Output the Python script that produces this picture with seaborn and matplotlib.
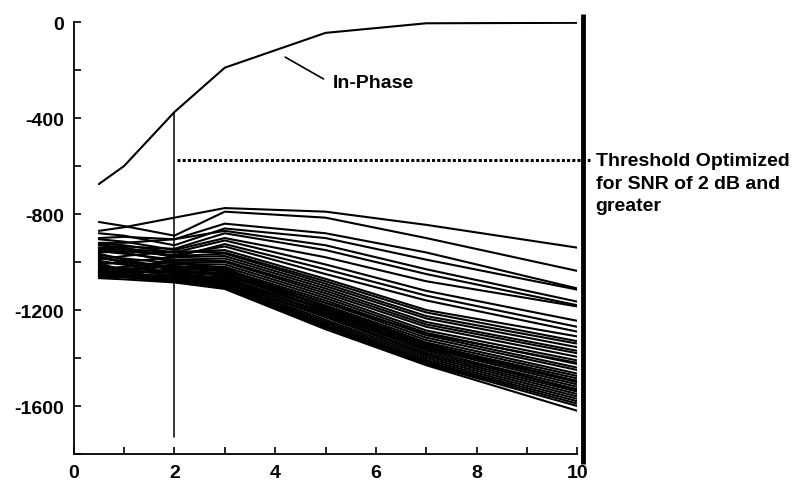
import pandas as pd
import numpy as np
import matplotlib.pyplot as plt
import seaborn as sns
from matplotlib.ticker import MultipleLocator

# SNR points (dB) where each curve was sampled
snr = [0.5, 1, 2, 3, 5, 7, 10]

in_phase = [-675, -600, -375, -190, -45, -5, -3]

threshold = -575

# noise/out-of-phase curves, one row per curve (values at the snr points)
noise_curves = [
    [-870, -855, -815, -775, -790, -845, -940],
    [-833, -850, -890, -790, -815, -900, -1037],
    [-900, -895, -905, -840, -880, -960, -1110],
    [-880, -890, -930, -860, -900, -990, -1115],
    [-920, -920, -905, -870, -930, -1030, -1165],
    [-940, -935, -945, -880, -950, -1050, -1180],
    [-905, -915, -950, -900, -980, -1080, -1185],
    [-950, -945, -960, -910, -1010, -1120, -1245],
    [-930, -940, -980, -925, -1030, -1140, -1270],
    [-960, -955, -970, -935, -1050, -1160, -1290],
    [-925, -930, -960, -950, -1070, -1200, -1310],
    [-990, -975, -955, -960, -1080, -1210, -1330],
    [-940, -950, -975, -965, -1090, -1225, -1340],
    [-1010, -1000, -980, -975, -1100, -1235, -1355],
    [-955, -965, -990, -985, -1110, -1250, -1370],
    [-1030, -1020, -995, -995, -1120, -1260, -1380],
    [-970, -985, -1005, -1000, -1130, -1270, -1395],
    [-1045, -1030, -1010, -1010, -1140, -1285, -1410],
    [-985, -995, -1020, -1020, -1150, -1295, -1425],
    [-1000, -1010, -1025, -1030, -1160, -1305, -1440],
    [-1055, -1045, -1030, -1035, -1170, -1315, -1450],
    [-965, -990, -1035, -1045, -1180, -1325, -1465],
    [-1020, -1025, -1040, -1050, -1185, -1335, -1475],
    [-1035, -1040, -1045, -1055, -1195, -1345, -1485],
    [-995, -1010, -1050, -1065, -1200, -1355, -1500],
    [-1060, -1055, -1055, -1070, -1210, -1360, -1510],
    [-1015, -1030, -1058, -1075, -1215, -1370, -1520],
    [-1040, -1050, -1062, -1080, -1225, -1378, -1530],
    [-975, -1005, -1065, -1085, -1230, -1385, -1540],
    [-1050, -1058, -1068, -1090, -1240, -1392, -1550],
    [-1025, -1040, -1072, -1095, -1248, -1400, -1560],
    [-1062, -1062, -1075, -1100, -1255, -1408, -1570],
    [-1005, -1035, -1078, -1102, -1262, -1415, -1580],
    [-1045, -1055, -1080, -1105, -1268, -1420, -1590],
    [-1058, -1064, -1082, -1108, -1274, -1425, -1600],
    [-1067, -1072, -1085, -1112, -1280, -1430, -1620],
    [-945, -960, -1000, -1040, -1170, -1300, -1420],
    [-1035, -1020, -1000, -1025, -1190, -1340, -1500],
    [-980, -1000, -1030, -1060, -1220, -1365, -1535],
    [-1050, -1040, -1015, -1040, -1205, -1350, -1495],
]

xticks = [0, 2, 4, 6, 8, 10]
yticks = [0, -400, -800, -1200, -1600]

rows = []
for i, curve in enumerate(noise_curves):
    for x, v in zip(snr, curve):
        rows.append({"curve": i, "snr": x, "value": v})
noise = pd.DataFrame(rows)
phase = pd.DataFrame({"snr": snr, "value": in_phase})

sns.set_style("ticks")
plt.rcParams["font.family"] = ["Liberation Sans", "DejaVu Sans"]
plt.rcParams["axes.unicode_minus"] = False
plt.rcParams["text.color"] = "black"
plt.rcParams["xtick.color"] = "black"
plt.rcParams["ytick.color"] = "black"
plt.rcParams["font.weight"] = "bold"

fig = plt.figure(figsize=(7.92, 4.81), dpi=100)
ax = fig.add_axes([0.093, 0.054, 0.636, 0.898])

sns.lineplot(data=noise, x="snr", y="value", units="curve", estimator=None,
             color="black", lw=1.5, legend=False, ax=ax)
sns.lineplot(data=phase, x="snr", y="value", color="black", lw=1.5, ax=ax)

# vertical marker at 2 dB and the threshold line
ax.plot([2, 2], [-1730, -378], color="black", lw=1.1)
ax.plot([2.05, 10.25], [threshold, threshold], color="black", lw=2.2,
        linestyle=(0, (1, 0.7)), clip_on=False)

# heavy bar on the right side
ax.plot([10.12, 10.12], [35, -1840], color="black", lw=3.5,
        clip_on=False, solid_capstyle="butt")

ax.plot([4.2, 4.96], [-146, -237], color="black", lw=1.2)
ax.text(5.15, -250, "In-Phase", fontsize=14, va="center", ha="left")
ax.text(10.36, -540, "Threshold Optimized\nfor SNR of 2 dB and\ngreater",
        fontsize=14, va="top", ha="left", linespacing=1.45,
        clip_on=False)

ax.set_xlim(0, 10)
ax.set_ylim(-1800, 0)
ax.set_xticks(xticks)
ax.set_yticks(yticks)
ax.xaxis.set_minor_locator(MultipleLocator(1))
ax.yaxis.set_minor_locator(MultipleLocator(200))
ax.tick_params(which="both", direction="in", length=5, width=1.2,
               labelsize=14, pad=7)
ax.set_xlabel("")
ax.set_ylabel("")
for side in ["top", "right"]:
    ax.spines[side].set_visible(False)
for side in ["left", "bottom"]:
    ax.spines[side].set_linewidth(1.3)
    ax.spines[side].set_color("black")

fig.savefig("out.png", dpi=100)
